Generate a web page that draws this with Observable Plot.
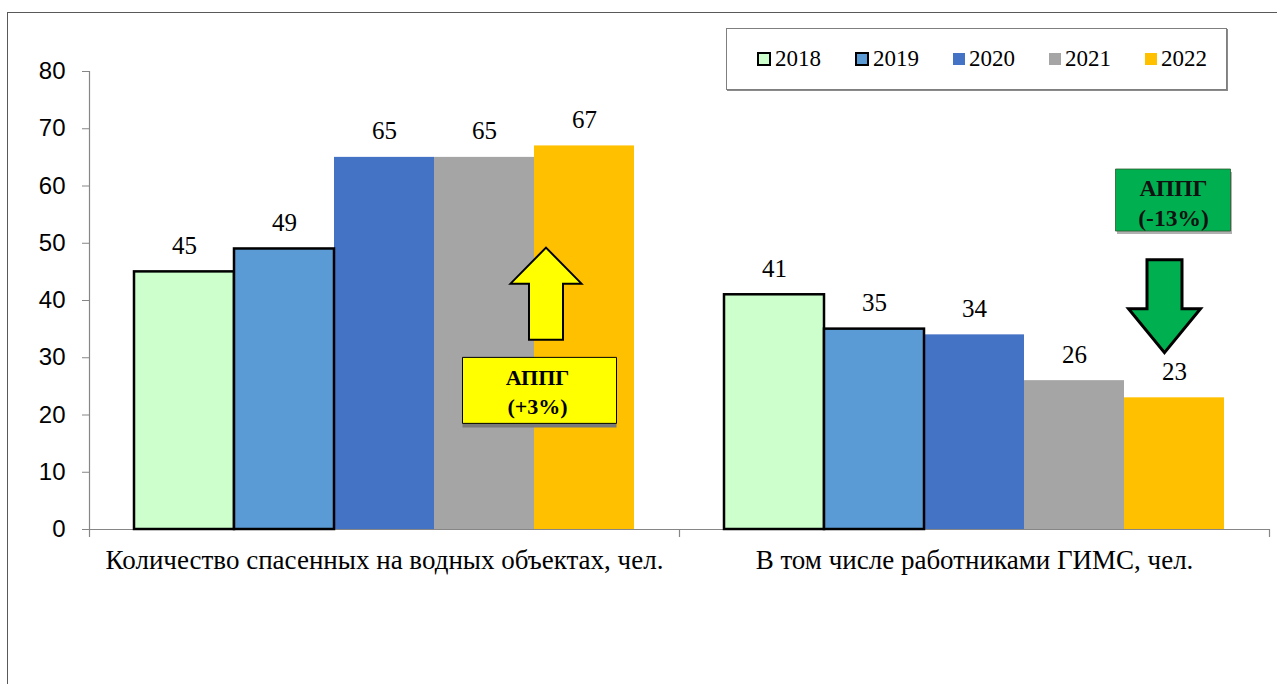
<!DOCTYPE html>
<html>
<head>
<meta charset="utf-8">
<script src="https://cdn.jsdelivr.net/npm/d3@7"></script>
<script src="https://cdn.jsdelivr.net/npm/@observablehq/plot@0.6"></script>
<style>
  body { margin: 0; background: #fff; }
  #wrap { position: relative; width: 1277px; height: 684px; overflow: hidden; }
  #frame { position: absolute; left: 7px; top: 12px; width: 1300px; height: 700px;
           border-left: 1.5px solid #595959; border-top: 1.5px solid #595959; }
  #chart { position: absolute; left: 0; top: 0; }
  #legend { position: absolute; left: 726px; top: 28px; width: 501px; height: 62px;
            border: 1px solid #7f7f7f; box-shadow: 1px 1px 0 #8a8a8a; background: #fff;
            display: flex; align-items: center; padding-left: 30px; box-sizing: border-box; gap: 34px;
            font-family: "Liberation Serif", "Times New Roman", serif; font-size: 23px; color: #000; }
  .item { display: flex; align-items: center; gap: 4px; }
  .sw { width: 12px; height: 12px; box-sizing: border-box; }
</style>
</head>
<body>
<div id="wrap">
  <div id="frame"></div>
  <div id="chart"></div>
  <div id="legend"></div>
</div>
<script>
const categories = ["Количество спасенных на водных объектах, чел.", "В том числе работниками ГИМС, чел."];
const years = ["2018", "2019", "2020", "2021", "2022"];
const rescuedTotal = [45, 49, 65, 65, 67];
const rescuedGims = [41, 35, 34, 26, 23];
const yearColors = ["#CCFFCC", "#5B9BD5", "#4472C4", "#A5A5A5", "#FFC000"];
const outlinedYears = ["2018", "2019"];
const yTicks = [0, 10, 20, 30, 40, 50, 60, 70, 80];
const notes = ["АППГ\n(+3%)", "АППГ\n(-13%)"];

const series = [rescuedTotal, rescuedGims];
const rows = categories.flatMap((cat, i) => years.map((year, j) => ({cat, year, value: series[i][j]})));
const firstRow = rows.filter(d => d.cat === categories[0] && d.year === years[0]);
const lastRows = rows.filter(d => d.year === years[years.length - 1]);
const noteUp = lastRows.filter(d => d.cat === categories[0]).map(d => ({...d, note: notes[0]}));
const noteDown = lastRows.filter(d => d.cat === categories[1]).map(d => ({...d, note: notes[1]}));

const arrowUp = {draw(c) {
  c.moveTo(0, -46); c.lineTo(35.5, -10); c.lineTo(17, -10); c.lineTo(17, 46);
  c.lineTo(-17, 46); c.lineTo(-17, -10); c.lineTo(-35.5, -10); c.closePath();
}};
const arrowDown = {draw(c) {
  c.moveTo(0, 47); c.lineTo(36, 3); c.lineTo(17.5, 3); c.lineTo(17.5, -46);
  c.lineTo(-17.5, -46); c.lineTo(-17.5, 3); c.lineTo(-36, 3); c.closePath();
}};
const rectSym = (w, h) => ({draw(c) { c.rect(-w / 2, -h / 2, w, h); }});

const axisGray = "#868686";
const serif = "Liberation Serif, Times New Roman, serif";

const chart = Plot.plot({
  width: 1277,
  height: 684,
  marginLeft: 89,
  marginRight: 8,
  marginTop: 71,
  marginBottom: 155,
  style: {fontFamily: serif, fontSize: "24px", color: "#000", background: "transparent"},
  fx: {domain: categories, padding: 0, label: null},
  x: {domain: years, paddingInner: 0, paddingOuter: 0.45, axis: null},
  y: {domain: [0, 80], label: null},
  color: {domain: years, range: yearColors},
  marks: [
    Plot.ruleY([0], {stroke: axisGray, strokeWidth: 1}),
    Plot.barY(rows, {fx: "cat", x: "year", y: "value", fill: "year", inset: 0}),
    Plot.barY(rows.filter(d => outlinedYears.includes(d.year)),
      {fx: "cat", x: "year", y: "value", fill: "year", stroke: "#000", strokeWidth: 2.5, inset: 0}),
    Plot.ruleX(firstRow, {fx: "cat", x: "year", dx: -95, stroke: axisGray, strokeWidth: 1.2, insetBottom: -8}),
    Plot.ruleX(lastRows, {fx: "cat", x: "year", dx: 95, y1: 0, y2: 0, stroke: axisGray, strokeWidth: 1.2, insetBottom: -8}),
    Plot.axisY({facetAnchor: "left", ticks: yTicks, tickSize: 7, tickPadding: 17, stroke: axisGray,
      fill: "#000", fontSize: 24, fontFamily: "Liberation Sans, Arial, sans-serif", label: null, tickFormat: d => String(d)}),
    Plot.axisFx({anchor: "bottom", tickSize: 0, tickPadding: 20, fontSize: 27, fontFamily: serif, fill: "#000", label: null}),
    Plot.text(rows, {fx: "cat", x: "year", y: "value", text: d => String(d.value), dy: -26,
      lineAnchor: "middle", fontSize: 25, fontFamily: serif, fill: "#000"}),
    // up arrow and note for the first group
    Plot.dot(noteUp, {fx: "cat", x: "year", y: 41.2, dx: -38.5, symbol: arrowUp, fill: "#FFFF00", stroke: "#000", strokeWidth: 2}),
    Plot.dot(noteUp, {fx: "cat", x: "year", y: 24.3, dx: -45, dy: 4, symbol: rectSym(154, 66), fill: "#7a7a7a", stroke: "none"}),
    Plot.dot(noteUp, {fx: "cat", x: "year", y: 24.3, dx: -45, symbol: rectSym(154, 66), fill: "#FFFF00", stroke: "#000", strokeWidth: 1}),
    Plot.text(noteUp, {fx: "cat", x: "year", y: 24.3, dx: -47, text: "note", lineHeight: 1.3, lineAnchor: "middle",
      fontSize: 22, fontWeight: "bold", fontFamily: serif, fill: "#000"}),
    // down arrow and note for the second group
    Plot.dot(noteDown, {fx: "cat", x: "year", y: 57.55, dx: 0, dy: 3, symbol: rectSym(115, 62), fill: "#b0b0b0", stroke: "none"}),
    Plot.dot(noteDown, {fx: "cat", x: "year", y: 57.55, dx: -1.5, symbol: rectSym(115, 62), fill: "#00B050", stroke: "#2c5a2c", strokeWidth: 0.8}),
    Plot.text(noteDown, {fx: "cat", x: "year", y: 57.3, dx: -1, text: "note", lineHeight: 1.25, lineAnchor: "middle",
      fontSize: 23.5, fontWeight: "bold", fontFamily: serif, fill: "#111"}),
    Plot.dot(noteDown, {fx: "cat", x: "year", y: 39.1, dx: -10, symbol: arrowDown, fill: "#00B050", stroke: "#000", strokeWidth: 3})
  ]
});
document.getElementById("chart").appendChild(chart);

const legend = document.getElementById("legend");
years.forEach((yr, i) => {
  const item = document.createElement("div");
  item.className = "item";
  const sw = document.createElement("div");
  sw.className = "sw";
  sw.style.background = yearColors[i];
  if (outlinedYears.includes(yr)) { sw.style.border = "2px solid #000"; sw.style.width = "14px"; sw.style.height = "14px"; }
  const t = document.createElement("span");
  t.textContent = yr;
  item.appendChild(sw);
  item.appendChild(t);
  legend.appendChild(item);
});
</script>
</body>
</html>
